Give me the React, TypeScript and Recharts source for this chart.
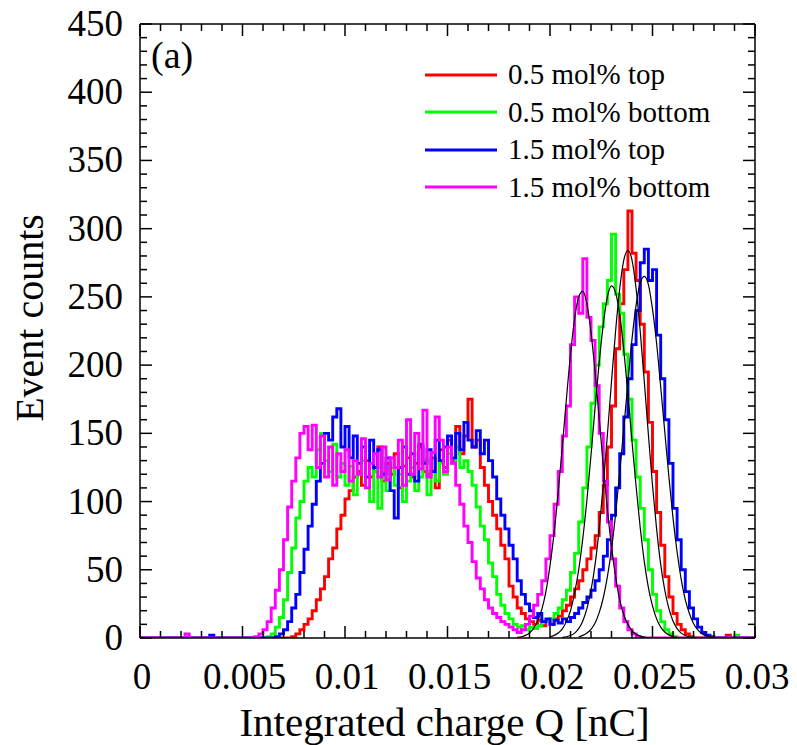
import React from "react";
import { LineChart, Line, XAxis, YAxis, Legend } from "recharts";

// Histogram bins: left edges every 0.0002 nC from 0 to 0.03
const BIN_WIDTH = 0.0002;
const N_BINS = 150;

// 0.5 mol% top
const RED_TOP_05 = [
  0, 0, 0, 0, 0, 0, 0, 0, 0, 0,
  0, 0, 0, 0, 0, 0, 0, 0, 0, 0,
  0, 0, 0, 0, 0, 0, 0, 0, 0, 0,
  0, 0, 0, 0, 0, 0, 0, 1, 3, 6,
  10, 14, 20, 28, 36, 45, 58, 66, 80, 90,
  102, 108, 118, 122, 112, 130, 118, 125, 140, 115,
  128, 120, 135, 110, 126, 132, 118, 128, 140, 122,
  120, 132, 110, 138, 125, 145, 130, 155, 135, 148,
  175, 140, 145, 125, 112, 100, 90, 80, 68, 58,
  38, 30, 22, 18, 14, 12, 10, 13, 9, 12,
  10, 14, 16, 20, 24, 30, 36, 42, 50, 58,
  66, 75, 92, 112, 140, 170, 212, 245, 270, 313,
  282, 262, 230, 195, 158, 122, 92, 68, 45, 30,
  18, 10, 6, 3, 1, 0, 0, 0, 0, 0,
  0, 0, 0, 2, 0, 0, 0, 0, 0, 0,
];

// 0.5 mol% bottom
const GREEN_BOT_05 = [
  0, 0, 0, 0, 0, 0, 0, 0, 0, 0,
  0, 0, 0, 0, 0, 0, 0, 0, 0, 0,
  0, 0, 0, 0, 0, 0, 0, 0, 0, 0,
  0, 1, 3, 8, 15, 28, 48, 66, 88, 100,
  115, 125, 118, 138, 150, 130, 122, 142, 118, 128,
  112, 126, 105, 120, 130, 110, 100, 122, 95, 118,
  108, 125, 112, 120, 100, 115, 125, 108, 118, 130,
  105, 122, 115, 128, 120, 135, 128, 140, 125, 130,
  122, 112, 96, 82, 72, 55, 45, 32, 24, 18,
  14, 10, 8, 9, 6, 8, 7, 9, 12, 12,
  14, 18, 22, 28, 35, 48, 62, 85, 110, 140,
  172, 200, 228, 245, 262, 296, 252, 238, 208, 175,
  145, 118, 95, 72, 50, 32, 20, 12, 6, 3,
  1, 0, 0, 0, 0, 0, 0, 0, 0, 0,
  0, 0, 0, 0, 0, 2, 0, 0, 0, 0,
];

// 1.5 mol% top
const BLUE_TOP_15 = [
  0, 0, 0, 0, 0, 0, 0, 0, 0, 0,
  0, 0, 0, 0, 0, 0, 0, 2, 0, 0,
  0, 0, 0, 0, 0, 0, 0, 0, 0, 0,
  0, 0, 0, 1, 3, 6, 12, 22, 32, 48,
  65, 82, 98, 115, 128, 150, 145, 162, 168, 140,
  155, 132, 148, 128, 140, 118, 145, 125, 138, 120,
  132, 108, 88, 125, 140, 120, 135, 115, 142, 128,
  138, 122, 145, 130, 140, 148, 132, 150, 138, 158,
  145, 140, 152, 135, 145, 130, 118, 102, 90, 80,
  68, 58, 42, 32, 25, 20, 15, 18, 12, 14,
  10, 13, 11, 14, 12, 15, 18, 22, 26, 30,
  35, 42, 50, 60, 72, 90, 110, 135, 162, 190,
  215, 240, 275, 285, 262, 270, 222, 190, 160, 128,
  95, 72, 50, 34, 22, 14, 8, 4, 2, 1,
  0, 0, 0, 0, 0, 0, 0, 0, 0, 0,
];

// 1.5 mol% bottom
const MAGENTA_BOT_15 = [
  0, 0, 0, 0, 0, 0, 0, 0, 0, 0,
  0, 3, 0, 0, 0, 0, 0, 0, 0, 0,
  0, 0, 0, 0, 0, 0, 0, 0, 1, 3,
  6, 12, 22, 35, 50, 72, 96, 115, 132, 150,
  155, 138, 156, 125, 148, 118, 140, 112, 135, 122,
  138, 115, 130, 120, 146, 110, 128, 135, 118, 140,
  116, 132, 125, 145, 112, 160, 120, 150, 124, 167,
  118, 136, 162, 145, 122, 140, 128, 112, 98, 82,
  70, 56, 44, 36, 28, 22, 18, 15, 12, 10,
  8, 6, 4, 6, 10, 16, 24, 32, 42, 58,
  75, 98, 122, 148, 170, 215, 250, 238, 278, 235,
  218, 185, 150, 115, 85, 58, 38, 22, 12, 6,
  3, 1, 0, 0, 0, 0, 0, 0, 0, 0,
  0, 0, 0, 0, 0, 0, 0, 0, 0, 0,
  0, 0, 0, 0, 0, 0, 0, 0, 0, 0,
];

// Gaussian fits (black), sampled every 0.0002 from their start
const FIT_RED_START = 0.0206;
const FIT_RED = [0.4, 0.9, 1.8, 3.6, 6.9, 12.5, 21.5, 35, 54, 80, 112, 149, 188, 225, 256, 277, 284,
  277, 256, 225, 188, 149, 112, 80, 54, 35, 21.5, 12.5, 6.9, 3.6, 1.8, 0.9, 0.4];
const FIT_GREEN_START = 0.02;
const FIT_GREEN = [0.9, 1.9, 3.6, 6.7, 12, 20, 33, 50, 73, 101, 134, 169, 202, 230, 250, 258,
  253, 237, 211, 179, 144, 111, 81, 56, 37, 23.5, 14, 8, 4.4, 2.3, 1.1, 0.5];
const FIT_BLUE_START = 0.0214;
const FIT_BLUE = [0.9, 1.9, 3.6, 6.4, 11, 18.6, 29.5, 45, 65, 91, 121, 154, 187, 219, 244, 260, 265,
  259, 241, 216, 184, 151, 118, 88, 63, 43, 28, 18, 10.6, 6.1, 3.3, 1.7, 0.9, 0.4];
const FIT_MAGENTA_START = 0.0184;
const FIT_MAGENTA = [0.4, 0.9, 1.9, 3.7, 7, 12.6, 21, 34, 53, 77, 107, 140, 175, 208, 234, 250, 254,
  245, 224, 195, 161, 126, 94, 67, 45, 28, 17, 10, 5.5, 2.8, 1.4, 0.6, 0.2];

const X_TICKS = Array.from({ length: 31 }, (_, k) => k / 1000);
const Y_TICKS = Array.from({ length: 46 }, (_, k) => k * 10);

const SERIES = [
  { key: "red", name: "0.5 mol% top", colour: "#ff0000", values: RED_TOP_05 },
  { key: "green", name: "0.5 mol% bottom", colour: "#00ff00", values: GREEN_BOT_05 },
  { key: "blue", name: "1.5 mol% top", colour: "#0000ff", values: BLUE_TOP_15 },
  { key: "magenta", name: "1.5 mol% bottom", colour: "#ff00ff", values: MAGENTA_BOT_15 },
];

const FITS = [
  { key: "fitRed", start: FIT_RED_START, values: FIT_RED },
  { key: "fitGreen", start: FIT_GREEN_START, values: FIT_GREEN },
  { key: "fitBlue", start: FIT_BLUE_START, values: FIT_BLUE },
  { key: "fitMagenta", start: FIT_MAGENTA_START, values: FIT_MAGENTA },
];

const FONT = "'Liberation Serif', 'Times New Roman', serif";
const MAJOR = 12;
const MINOR = 7;

const histData = Array.from({ length: N_BINS + 1 }, (_, i) => {
  const row: Record<string, number> = { q: i * BIN_WIDTH };
  SERIES.forEach(s => { row[s.key] = s.values[i] ?? 0; });
  return row;
});

const fitData = FITS.map(f => ({
  key: f.key,
  data: f.values.map((v, k) => ({ q: f.start + k * BIN_WIDTH, v })),
}));

function fmtQ(v: number) {
  return String(Number(v.toFixed(3)));
}

// ── tick renderers: inward ticks, labels only on majors ──
function BottomTick(props: any) {
  const { x, y, payload } = props;
  const major = Math.round(payload.value * 1000) % 5 === 0;
  return (
    <g>
      <line x1={x} x2={x} y1={y} y2={y - (major ? MAJOR : MINOR)} stroke="#000" strokeWidth={1.5} />
      {major && (
        <text x={x + 2} y={y + 51} textAnchor="middle" fontFamily={FONT} fontSize={37} fill="#000">
          {fmtQ(payload.value)}
        </text>
      )}
    </g>
  );
}

function TopTick(props: any) {
  const { x, y, payload } = props;
  const major = Math.round(payload.value * 1000) % 5 === 0;
  return <line x1={x} x2={x} y1={y} y2={y + (major ? MAJOR : MINOR)} stroke="#000" strokeWidth={1.5} />;
}

function LeftTick(props: any) {
  const { x, y, payload } = props;
  const major = payload.value % 50 === 0;
  return (
    <g>
      <line x1={x} x2={x + (major ? MAJOR : MINOR)} y1={y} y2={y} stroke="#000" strokeWidth={1.5} />
      {major && (
        <text x={x - 17} y={y + 12} textAnchor="end" fontFamily={FONT} fontSize={37} fill="#000">
          {payload.value}
        </text>
      )}
    </g>
  );
}

function RightTick(props: any) {
  const { x, y, payload } = props;
  const major = payload.value % 50 === 0;
  return <line x1={x} x2={x - (major ? MAJOR : MINOR)} y1={y} y2={y} stroke="#000" strokeWidth={1.5} />;
}

function renderLegend() {
  return (
    <div style={{ fontFamily: FONT, fontSize: 29, color: "#000" }}>
      {SERIES.map(s => (
        <div key={s.key} style={{ display: "flex", alignItems: "center", height: 37.5 }}>
          <svg width={72} height={6} style={{ marginRight: 11 }}>
            <line x1={0} x2={72} y1={3} y2={3} stroke={s.colour} strokeWidth={3} />
          </svg>
          <span style={{ lineHeight: "37.5px", whiteSpace: "nowrap" }}>{s.name}</span>
        </div>
      ))}
    </div>
  );
}

const AXIS_LINE = { stroke: "#000", strokeWidth: 1.5 };

export default function App() {
  return (
    <div style={{ position: "absolute", left: 0, top: 0, background: "#fff" }}>
      <LineChart width={797} height={745} data={histData} margin={{ top: 23, right: 41, bottom: 106, left: 139 }}>
        <XAxis
          type="number" dataKey="q" domain={[0, 0.03]} ticks={X_TICKS} interval={0}
          height={1} tickSize={0} tickMargin={0} tickLine={false} axisLine={AXIS_LINE}
          tick={<BottomTick />} allowDataOverflow
          label={{
            content: ({ viewBox }: any) => (
              <text x={viewBox.x + viewBox.width / 2 - 3} y={viewBox.y + 98} textAnchor="middle"
                fontFamily={FONT} fontSize={41} fill="#000">Integrated charge Q [nC]</text>
            ),
          }}
        />
        <XAxis
          xAxisId="top" orientation="top" type="number" dataKey="q" domain={[0, 0.03]} ticks={X_TICKS} interval={0}
          height={1} tickSize={0} tickMargin={0} tickLine={false} axisLine={AXIS_LINE}
          tick={<TopTick />} allowDataOverflow
          label={{
            content: ({ viewBox }: any) => (
              <text x={viewBox.x + 11} y={viewBox.y + 45} fontFamily={FONT} fontSize={38} fill="#000">(a)</text>
            ),
          }}
        />
        <YAxis
          type="number" domain={[0, 450]} ticks={Y_TICKS} interval={0}
          width={1} tickSize={0} tickMargin={0} tickLine={false} axisLine={AXIS_LINE}
          tick={<LeftTick />} allowDataOverflow
          label={{
            content: ({ viewBox }: any) => {
              const cx = viewBox.x - 96;
              const cy = viewBox.y + viewBox.height / 2 - 13;
              return (
                <text x={cx} y={cy} transform={`rotate(-90, ${cx}, ${cy})`} textAnchor="middle"
                  fontFamily={FONT} fontSize={40} fill="#000">Event counts</text>
              );
            },
          }}
        />
        <YAxis
          yAxisId="right" orientation="right" type="number" domain={[0, 450]} ticks={Y_TICKS} interval={0}
          width={1} tickSize={0} tickMargin={0} tickLine={false} axisLine={AXIS_LINE}
          tick={<RightTick />} allowDataOverflow
        />

        {SERIES.map(s => (
          <Line key={s.key} type="stepAfter" dataKey={s.key} name={s.name} stroke={s.colour}
            strokeWidth={2.9} dot={false} isAnimationActive={false} />
        ))}

        {fitData.map(f => (
          <Line key={f.key} data={f.data} type="monotone" dataKey="v" stroke="#000" strokeWidth={1.2}
            dot={false} legendType="none" isAnimationActive={false} />
        ))}

        <Legend content={renderLegend} layout="vertical" align="center" verticalAlign="middle"
          width={340} wrapperStyle={{ left: 425, top: 56 }} />
      </LineChart>
    </div>
  );
}
